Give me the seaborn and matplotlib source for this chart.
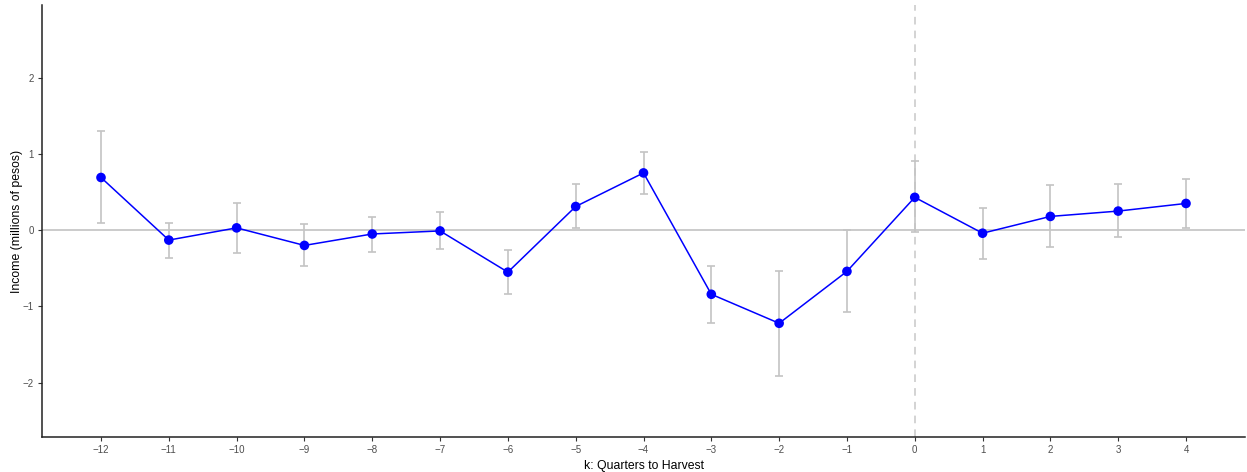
import matplotlib
matplotlib.use("Agg")
import matplotlib.pyplot as plt
import seaborn as sns
import pandas as pd
import numpy as np

k = [-12, -11, -10, -9, -8, -7, -6, -5, -4, -3, -2, -1, 0, 1, 2, 3, 4]
estimate = [0.69, -0.13, 0.03, -0.20, -0.05, -0.01, -0.55, 0.31, 0.75, -0.84, -1.22, -0.54, 0.43, -0.04, 0.18, 0.25, 0.35]
ci_low = [0.10, -0.37, -0.30, -0.47, -0.28, -0.25, -0.84, 0.03, 0.47, -1.21, -1.91, -1.07, -0.03, -0.38, -0.22, -0.09, 0.03]
ci_high = [1.30, 0.10, 0.35, 0.08, 0.17, 0.24, -0.26, 0.60, 1.02, -0.47, -0.54, 0.00, 0.90, 0.29, 0.59, 0.60, 0.67]
y_ticks = [-2, -1, 0, 1, 2]

df = pd.DataFrame({"k": k, "est": estimate, "lo": ci_low, "hi": ci_high})

sns.set_style("white")
plt.rcParams['font.family'] = ['Liberation Sans', 'DejaVu Sans']

fig = plt.figure(figsize=(12.47, 4.72), dpi=100)
ax = fig.add_axes([42/1247, 1 - 437/472, (1245-42)/1247, (437-5)/472])

ax.axhline(0, color="#bdbdbd", lw=1.1, zorder=1)
ax.axvline(0, color="#c8c8c8", lw=1.1, ls=(0, (5, 4)), zorder=1)

yerr = np.array([df.est - df.lo, df.hi - df.est])
ax.errorbar(df.k, df.est, yerr=yerr, fmt="none", ecolor="#c4c4c4", elinewidth=1.2,
            capsize=2.8, capthick=1.2, zorder=2)
sns.lineplot(data=df, x="k", y="est", color="#0000ff", lw=1.1, ax=ax, zorder=3)
sns.scatterplot(data=df, x="k", y="est", color="#0000ff", s=48, edgecolor="none", ax=ax, zorder=4)

ax.set_xlim(-12.87, 4.87)
ax.set_ylim(-2.71, 2.95)
ax.set_xticks(k)
ax.set_xticklabels([f"\u2212{abs(v)}" if v < 0 else str(v) for v in k])
ax.set_yticks(y_ticks)
ax.set_yticklabels([f"\u2212{abs(v)}" if v < 0 else str(v) for v in y_ticks])
ax.tick_params(axis="both", labelsize=7, labelcolor="#4d4d4d", color="#333333",
               length=3, width=0.8, direction="out", pad=3, bottom=True, left=True)

for s in ["top", "right"]:
    ax.spines[s].set_visible(False)
for s in ["left", "bottom"]:
    ax.spines[s].set_color("#222222")
    ax.spines[s].set_linewidth(1.1)

ax.set_xlabel("k: Quarters to Harvest", fontsize=8.8, color="black", labelpad=3)
ax.set_ylabel("Income (millions of pesos)", fontsize=8.8, color="black", labelpad=0)

fig.savefig("out.png", dpi=100)
